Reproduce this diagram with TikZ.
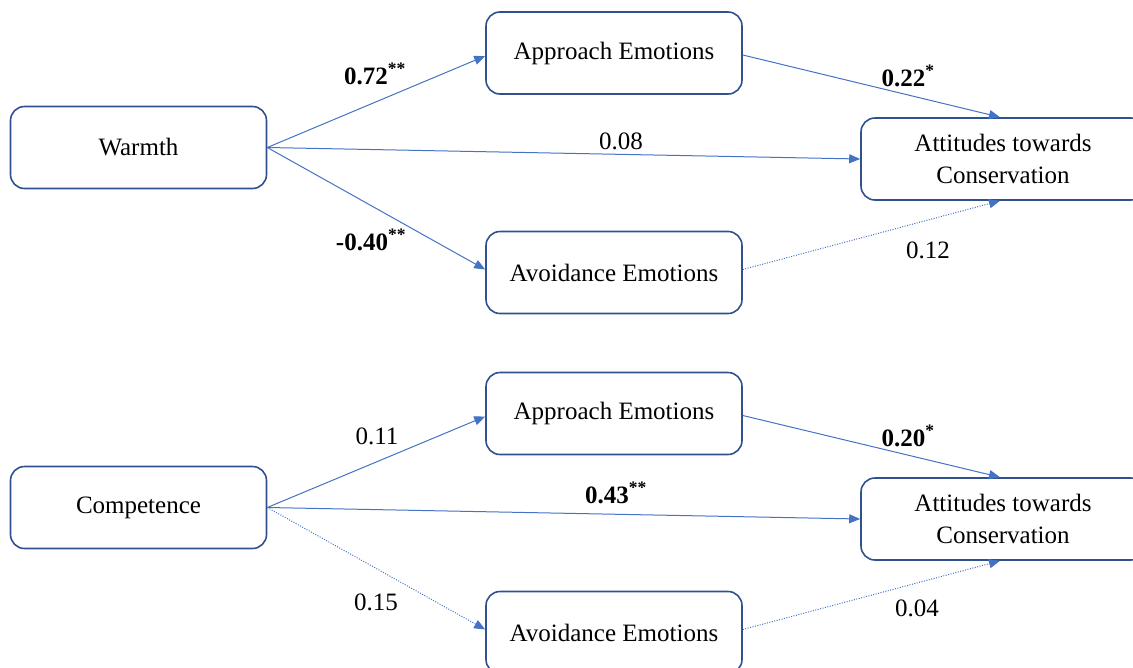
\documentclass[tikz,border=0pt]{standalone}
\usepackage{fontspec}
\setmainfont{Liberation Serif}
\usetikzlibrary{arrows.meta}
\definecolor{boxblue}{RGB}{47,82,143}
\definecolor{arrblue}{RGB}{68,114,196}
\tikzset{
  box/.style={draw=boxblue, line width=1.6pt, rounded corners=14pt, minimum width=256pt, minimum height=82pt, align=center, font=\fontsize{25}{32}\selectfont, inner sep=0pt},
  conn/.style={draw=arrblue, line width=1pt, -{Triangle[length=11pt,width=9pt]}},
  dotconn/.style={conn, dash pattern=on 1pt off 1.5pt},
  lbl/.style={anchor=base, font=\fontsize{25}{30}\selectfont, inner sep=0pt}
}
\newcommand{\st}[1]{\textsuperscript{\textbf{#1}}}
\begin{document}
\begin{tikzpicture}[x=1pt,y=-1pt]
\useasboundingbox (0,0) rectangle (1133,667);
% top panel
\node[box] (w) at (138.5,147.5) {Warmth};
\node[box] (ap1) at (614,53) {Approach Emotions};
\node[box] (av1) at (614,272.5) {Avoidance Emotions};
\node[box, minimum width=284pt] (at1) at (1003,159) {Attitudes towards\\Conservation};
\draw[conn] (w.east) -- ([yshift=-3pt]ap1.west);
\draw[conn] (w.east) -- ([yshift=3pt]av1.west);
\draw[conn] (w.east) -- (at1.west);
\draw[conn] ([yshift=-2pt]ap1.east) -- ([xshift=-3pt]at1.north);
\draw[dotconn] ([yshift=3pt]av1.east) -- ([xshift=-3pt]at1.south);
\node[lbl] (l1) at (375,84) {\textbf{0.72}\st{**}};
\node[lbl] (l2) at (908,86) {\textbf{0.22}\st{*}};
\node[lbl] (l3) at (621,149) {0.08};
\node[lbl] (l4) at (371,250) {\textbf{-0.40}\st{**}};
\node[lbl] (l5) at (928,258) {0.12};
% bottom panel
\node[box] (c) at (138.5,507.5) {Competence};
\node[box] (ap2) at (614,413.5) {Approach Emotions};
\node[box] (av2) at (614,632.5) {Avoidance Emotions};
\node[box, minimum width=284pt] (at2) at (1003,519) {Attitudes towards\\Conservation};
\draw[conn] (c.east) -- ([yshift=-3pt]ap2.west);
\draw[dotconn] (c.east) -- ([yshift=3pt]av2.west);
\draw[conn] (c.east) -- (at2.west);
\draw[conn] ([yshift=-2pt]ap2.east) -- ([xshift=-3pt]at2.north);
\draw[dotconn] ([yshift=3pt]av2.east) -- ([xshift=-3pt]at2.south);
\node[lbl] (m1) at (377,444) {0.11};
\node[lbl] (m2) at (908,446) {\textbf{0.20}\st{*}};
\node[lbl] (m3) at (616,503) {\textbf{0.43}\st{**}};
\node[lbl] (m4) at (376,610) {0.15};
\node[lbl] (m5) at (917,616) {0.04};
\end{tikzpicture}
\end{document}
